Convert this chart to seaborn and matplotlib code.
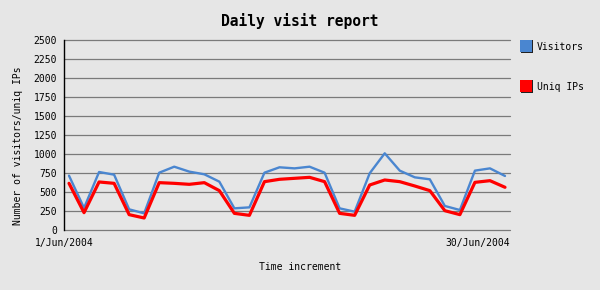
import matplotlib
matplotlib.use("Agg")
import matplotlib.pyplot as plt
from matplotlib.patches import Rectangle
import seaborn as sns
import pandas as pd

days = list(range(1, 31))
visitors = [715, 290, 763, 728, 272, 219, 754, 833, 768, 733, 636, 285, 298, 754, 825,
            811, 833, 754, 285, 241, 746, 1009, 781, 693, 667, 316, 263, 781, 811, 711]
uniq_ips = [614, 228, 632, 614, 202, 158, 623, 614, 601, 623, 518, 219, 193, 636, 667,
            680, 693, 636, 219, 193, 592, 658, 636, 579, 518, 254, 202, 627, 649, 562]
series_names = ["Visitors", "Uniq IPs"]
series_colors = ["#4a86d0", "#ff0000"]
x_tick_labels = ["1/Jun/2004", "30/Jun/2004"]
y_ticks = list(range(0, 2501, 250))

df = pd.DataFrame({"day": days * 2,
                   "value": visitors + uniq_ips,
                   "series": [series_names[0]] * 30 + [series_names[1]] * 30})

sns.set_theme(style="white")
bg = "#e6e6e6"
plt.rcParams["font.family"] = ["DejaVu Sans Mono"]
plt.rcParams["text.color"] = "black"
plt.rcParams["xtick.color"] = "black"
plt.rcParams["ytick.color"] = "black"
plt.rcParams["xtick.labelcolor"] = "black"
plt.rcParams["ytick.labelcolor"] = "black"

fig = plt.figure(figsize=(6, 2.9), dpi=100, facecolor=bg)
ax = fig.add_axes([64 / 600, 1 - 230 / 290, (510 - 64) / 600, (230 - 40) / 290])
ax.set_facecolor(bg)

for name, col, lw in zip(series_names, series_colors, [1.7, 2.3]):
    sns.lineplot(data=df[df["series"] == name], x="day", y="value", color=col,
                 linewidth=lw, ax=ax, legend=False, zorder=3 if name == "Visitors" else 4)

xl, xr = 1 - 5 / 15.03, 30 + 5 / 15.03
ax.set_xlim(xl, xr)
ax.set_ylim(0, 2500)
ax.set_yticks(y_ticks)
ax.set_yticklabels([str(v) for v in y_ticks], fontsize=7)
for v in y_ticks:
    ax.axhline(v, color="#7a7a7a", linewidth=0.9, zorder=1, clip_on=False)
ax.set_xticks([xl, xr])
labels = ax.set_xticklabels(x_tick_labels, fontsize=7)
labels[0].set_ha("center")
labels[1].set_ha("right")
ax.tick_params(axis="both", length=0)
ax.tick_params(axis="x", pad=6)
ax.tick_params(axis="y", pad=5)
ax.set_xlabel("")
ax.set_ylabel("")
for s in ["top", "right", "bottom"]:
    ax.spines[s].set_visible(False)
ax.spines["left"].set_color("black")
ax.spines["left"].set_linewidth(1.0)
ax.spines["left"].set_zorder(5)

fig.text(0.5, 1 - 21 / 290, "Daily visit report", ha="center", va="center",
         fontsize=10.5, fontweight="bold", color="black")
fig.text(0.5, 1 - 267 / 290, "Time increment", ha="center", va="center", fontsize=7,
         color="black")
fig.text(18 / 600, 1 - 146 / 290, "Number of visitors/uniq IPs", ha="center", va="center",
         rotation=90, fontsize=7, color="black")

for i, (name, col) in enumerate(zip(series_names, series_colors)):
    ytop = 40 + i * 40
    fig.patches.append(Rectangle((521 / 600, 1 - (ytop + 13) / 290), 12 / 600, 13 / 290,
                                 transform=fig.transFigure, facecolor="#222222",
                                 edgecolor="none"))
    fig.patches.append(Rectangle((520 / 600, 1 - (ytop + 12) / 290), 12 / 600, 12 / 290,
                                 transform=fig.transFigure, facecolor=col,
                                 edgecolor="none"))
    fig.text(537 / 600, 1 - (ytop + 6.5) / 290, name, ha="left", va="center", fontsize=7,
             color="black")

fig.savefig("out.png", dpi=100, facecolor=bg)
